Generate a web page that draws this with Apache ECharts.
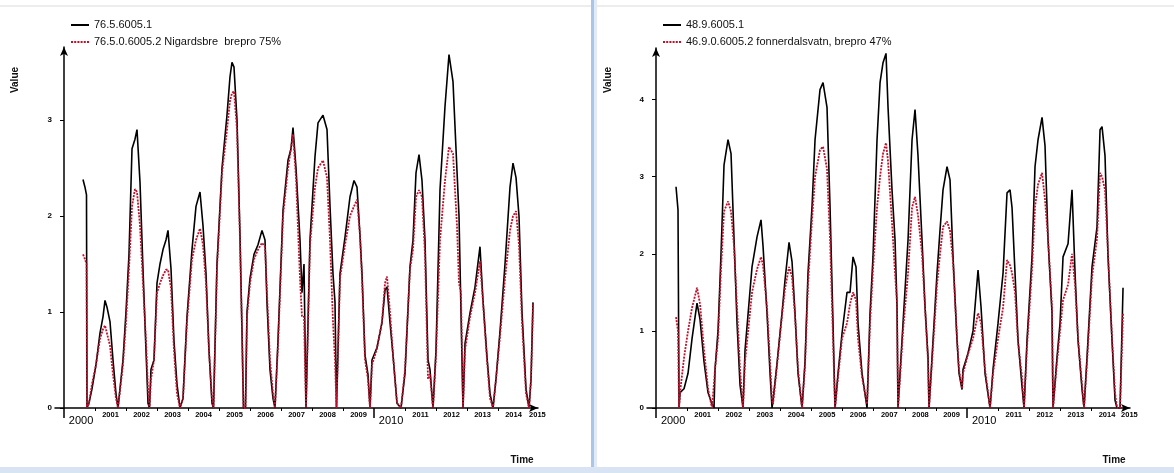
<!DOCTYPE html>
<html><head><meta charset="utf-8">
<script src="https://cdn.jsdelivr.net/npm/echarts@6/dist/echarts.min.js"></script>
<style>html,body{margin:0;padding:0;background:#fff;}#c{width:1174px;height:473px;}</style>
</head><body><div id="c"></div>
<script>
// ---------- data (decimal years, values) ----------
const baseYear = 2000;
const leftYears = [2000.613,2000.677,2000.726,2000.742,2000.806,2000.903,2001.032,2001.161,2001.258,2001.323,2001.387,2001.484,2001.581,2001.677,2001.742,2001.806,
 2001.903,2002.0,2002.097,2002.194,2002.290,2002.355,2002.452,2002.548,2002.645,2002.710,2002.758,
 2002.806,2002.903,2003.0,2003.097,2003.194,2003.290,2003.355,2003.452,2003.548,2003.645,2003.742,
 2003.839,2003.968,2004.129,2004.258,2004.387,2004.484,2004.581,2004.677,2004.774,2004.823,
 2004.935,2005.097,2005.258,2005.355,2005.419,2005.484,2005.581,2005.677,2005.742,2005.790,2005.855,
 2005.903,2006.0,2006.129,2006.258,2006.387,2006.484,2006.548,2006.645,2006.742,2006.806,
 2006.903,2007.065,2007.226,2007.323,2007.387,2007.484,2007.613,2007.677,2007.742,2007.806,
 2007.935,2008.097,2008.194,2008.355,2008.484,2008.581,2008.677,2008.742,2008.790,
 2008.903,2009.065,2009.226,2009.355,2009.452,2009.548,2009.613,2009.710,2009.806,2009.871,
 2009.935,2010.097,2010.258,2010.355,2010.419,2010.516,2010.613,2010.742,2010.871,
 2011.0,2011.161,2011.258,2011.355,2011.452,2011.548,2011.645,2011.742,2011.806,2011.903,
 2012.0,2012.129,2012.290,2012.419,2012.548,2012.677,2012.742,2012.806,2012.871,
 2012.935,2013.097,2013.258,2013.419,2013.516,2013.645,2013.742,2013.839,
 2013.935,2014.065,2014.226,2014.387,2014.484,2014.581,2014.677,2014.774,2014.903,2015.0,2015.065,2015.129];
const leftObserved = [2.38,2.3,2.22,0,0.05,0.2,0.45,0.78,0.95,1.12,1.05,0.9,0.5,0.15,0,0,
 0.5,1.0,1.6,2.7,2.8,2.9,2.35,1.45,0.6,0.05,0,
 0.4,0.5,1.3,1.5,1.65,1.75,1.85,1.45,0.7,0.25,0,
 0.1,0.95,1.65,2.1,2.25,1.9,1.4,0.6,0.05,0,
 1.5,2.5,3.05,3.45,3.6,3.55,3.0,1.8,0.8,0,0,
 1.0,1.35,1.6,1.7,1.85,1.75,1.1,0.4,0.1,0,
 0.7,2.06,2.58,2.7,2.92,2.5,1.75,1.2,1.5,0,
 1.75,2.62,2.97,3.05,2.9,2.1,1.4,1.1,0,
 1.4,1.78,2.2,2.37,2.3,1.8,1.4,0.55,0.35,0,
 0.5,0.63,0.89,1.23,1.26,0.89,0.55,0.05,0,
 0.36,1.47,1.75,2.45,2.64,2.37,1.75,0.5,0.4,0,
 0.6,2.27,3.14,3.68,3.4,2.47,2.0,1.0,0,
 0.67,0.99,1.26,1.68,1.12,0.53,0.15,0,
 0.3,0.8,1.5,2.3,2.55,2.4,2.0,1.0,0.2,0,0.3,1.1];
const leftSimulated = [1.6,1.55,1.5,0,0.05,0.25,0.45,0.72,0.82,0.86,0.87,0.65,0.35,0.1,0,0,
 0.45,0.9,1.45,2.1,2.28,2.25,1.9,1.3,0.7,0.2,0,
 0.3,0.5,1.2,1.3,1.38,1.44,1.44,1.25,0.6,0.15,0,
 0.1,0.9,1.55,1.75,1.87,1.7,1.3,0.6,0.1,0,
 1.45,2.45,2.9,3.2,3.28,3.3,2.9,1.75,0.8,0,0,
 0.95,1.3,1.55,1.65,1.72,1.68,1.2,0.5,0.15,0,
 0.65,2.0,2.5,2.7,2.85,2.4,1.35,0.95,0.95,0,
 1.7,2.3,2.5,2.58,2.4,1.75,0.9,0.5,0,
 1.35,1.7,2.0,2.1,2.17,1.8,1.35,0.5,0.3,0,
 0.45,0.62,0.9,1.3,1.37,1.0,0.55,0.05,0,
 0.4,1.45,1.65,2.2,2.27,2.2,1.6,0.3,0.35,0,
 0.55,1.75,2.37,2.72,2.65,1.9,1.3,1.2,0,
 0.6,0.95,1.2,1.53,1.1,0.5,0.1,0,
 0.3,0.75,1.35,1.85,2.0,2.05,1.7,0.9,0.15,0,0.3,1.08];

const rightYears = [2000.643,2000.707,2000.740,2000.772,2000.900,2001.029,2001.158,2001.318,2001.415,2001.543,2001.672,2001.801,2001.865,
 2001.897,2001.994,2002.090,2002.186,2002.315,2002.412,2002.508,2002.605,2002.701,2002.797,
 2002.862,2003.087,2003.248,2003.376,2003.441,2003.569,2003.666,2003.730,
 2003.762,2003.891,2004.051,2004.148,2004.277,2004.373,2004.469,2004.566,2004.695,
 2004.791,2004.887,2005.016,2005.113,2005.273,2005.370,2005.498,2005.595,2005.691,2005.756,
 2005.852,2005.981,2006.141,2006.238,2006.334,2006.431,2006.495,2006.624,2006.785,
 2006.881,2006.977,2007.106,2007.203,2007.299,2007.395,2007.460,2007.588,2007.685,2007.749,2007.781,
 2007.846,2007.942,2008.103,2008.232,2008.328,2008.424,2008.553,2008.650,2008.746,2008.778,
 2008.875,2009.035,2009.132,2009.228,2009.357,2009.453,2009.550,2009.678,2009.743,2009.839,
 2009.871,2010.032,2010.193,2010.354,2010.450,2010.579,2010.740,
 2010.836,2010.997,2011.158,2011.286,2011.383,2011.447,2011.543,2011.640,2011.768,2011.833,
 2011.929,2012.090,2012.186,2012.283,2012.412,2012.508,2012.605,2012.733,2012.765,
 2012.894,2012.990,2013.087,2013.248,2013.376,2013.473,2013.569,2013.698,2013.762,
 2013.859,2014.019,2014.180,2014.277,2014.341,2014.437,2014.534,2014.662,2014.759,2014.823,2014.920,2015.016];
const rightObserved = [2.87,2.57,0,0.2,0.25,0.45,0.9,1.36,1.15,0.6,0.2,0.05,0,
 0.5,1.0,2.0,3.15,3.48,3.3,2.2,1.1,0.3,0,
 0.75,1.83,2.22,2.44,2.1,1.23,0.45,0,
 0.1,0.58,1.23,1.66,2.15,1.9,1.23,0.45,0,
 0.6,1.75,2.61,3.48,4.13,4.22,3.9,2.61,1.1,0,
 0.45,0.97,1.5,1.5,1.96,1.83,1.1,0.45,0,
 1.23,1.96,3.48,4.22,4.48,4.6,3.9,2.83,2.18,1.31,0,
 0.45,1.1,2.18,3.48,3.87,3.27,2.18,1.31,0.66,0,
 0.66,1.75,2.31,2.83,3.13,2.96,1.96,0.88,0.45,0.24,
 0.5,0.71,1.0,1.79,1.31,0.45,0,
 0.5,1.1,1.75,2.79,2.83,2.6,1.75,0.88,0.28,0,
 0.88,1.96,3.13,3.48,3.77,3.4,2.18,1.23,0,
 0.66,1.1,1.96,2.13,2.83,1.75,0.88,0.24,0,
 0.66,1.83,2.35,3.61,3.65,3.27,1.96,0.88,0.1,0,0,1.56];
const rightSimulated = [1.18,1.0,0,0.2,0.65,1.0,1.3,1.56,1.35,0.75,0.25,0,0,
 0.5,0.9,1.8,2.55,2.68,2.55,2.1,1.3,0.5,0,
 0.6,1.5,1.8,1.96,1.85,1.3,0.6,0.1,
 0.05,0.55,1.2,1.55,1.83,1.7,1.2,0.5,0,
 0.55,1.6,2.45,3.0,3.35,3.39,3.1,2.2,0.9,0,
 0.4,0.9,1.1,1.35,1.5,1.4,0.9,0.4,0.05,
 1.1,1.8,2.6,3.0,3.3,3.44,3.2,2.4,1.75,1.36,0,
 0.4,1.0,1.75,2.6,2.74,2.5,2.0,1.3,0.6,0,
 0.6,1.6,2.0,2.35,2.42,2.3,1.9,0.9,0.5,0.25,
 0.45,0.7,0.9,1.23,1.1,0.5,0,
 0.45,0.9,1.3,1.92,1.85,1.75,1.5,0.85,0.4,0,
 0.8,1.8,2.61,2.9,3.05,2.7,2.2,1.3,0,
 0.6,1.0,1.4,1.6,2.0,1.6,0.9,0.3,0,
 0.6,1.7,2.2,3.05,3.0,2.83,2.0,0.9,0.2,0,0,1.23];

const leftNames = ['76.5.6005.1', '76.5.0.6005.2 Nigardsbre  brepro 75%'];
const rightNames = ['48.9.6005.1', '46.9.0.6005.2 fonnerdalsvatn, brepro 47%'];
const yearTickLabels = ['2001','2002','2003','2004','2005','2006','2007','2008','2009','2010','2011','2012','2013','2014'];
const decadeLabels = ['2000', '2010'];
const endLabel = '2015';
const leftYTicks = [0, 1, 2, 3];
const rightYTicks = [0, 1, 2, 3, 4];
const yTitle = 'Value';
const xTitle = 'Time';

// ---------- chart ----------
const FONT = "'Liberation Sans', Arial, sans-serif";
const BLACK = '#000000';
const RED = '#c0102c';

function pairs(years, vals) { return years.map((t, i) => [t - baseYear, vals[i]]); }

function xAxesFor(grid, min, max) {
  const small = [];
  yearTickLabels.forEach((l) => { const y = Number(l) - baseYear; if (decadeLabels.indexOf(l) < 0) small.push(y); });
  const labelPos = yearTickLabels.filter(l => decadeLabels.indexOf(l) < 0).map(l => Number(l) - baseYear + 0.5);
  labelPos.push(max - 0.02);
  const big = decadeLabels.map(l => Number(l) - baseYear);
  const bigLabelPos = big.map(v => v + 0.55);
  return [{
    type: 'value', gridIndex: grid, position: 'bottom', min, max,
    axisLine: { show: true, onZero: false, symbol: ['none', 'arrow'], symbolSize: [6, 9], lineStyle: { color: BLACK, width: 1.5 } },
    splitLine: { show: false },
    axisTick: { show: true, customValues: small, length: 3, lineStyle: { color: BLACK, width: 1 } },
    axisLabel: { show: true, customValues: labelPos, margin: 3, fontSize: 7.5, fontWeight: 'bold', fontFamily: FONT, color: BLACK,
      formatter: v => v > 14.9 ? endLabel : String(baseYear + Math.floor(v)) }
  }, {
    type: 'value', gridIndex: grid, position: 'bottom', min, max,
    axisLine: { show: false, onZero: false },
    splitLine: { show: false },
    axisTick: { show: true, customValues: big, length: 10, lineStyle: { color: BLACK, width: 1.5 } },
    axisLabel: { show: true, customValues: bigLabelPos, margin: 7, fontSize: 11, fontFamily: FONT, color: BLACK,
      formatter: v => decadeLabels[v < 5 ? 0 : 1] }
  }];
}

function yAxisFor(grid, max, ticks, zeroIdx) {
  return {
    type: 'value', gridIndex: grid, min: 0, max,
    axisLine: { show: true, onZero: true, onZeroAxisIndex: zeroIdx, symbol: ['none', 'arrow'], symbolSize: [6, 9], lineStyle: { color: BLACK, width: 1.5 } },
    splitLine: { show: false },
    axisTick: { show: true, customValues: ticks, length: 4, lineStyle: { color: BLACK } },
    axisLabel: { show: true, customValues: ticks, margin: 3, fontSize: 8, fontWeight: 'bold', fontFamily: FONT, color: BLACK }
  };
}

function seriesFor(names, years, obs, sim, xi, yi) {
  return [{
    type: 'line', name: names[0], xAxisIndex: xi, yAxisIndex: yi, data: pairs(years, obs),
    symbol: 'none', lineStyle: { color: BLACK, width: 1.6 }, itemStyle: { color: BLACK }, z: 2
  }, {
    type: 'line', name: names[1], xAxisIndex: xi, yAxisIndex: yi, data: pairs(years, sim),
    symbol: 'none', lineStyle: { color: RED, width: 1.8, type: [2, 1.2] }, itemStyle: { color: RED }, z: 3
  }];
}

function legendFor(names, left) {
  return {
    data: names, left, top: 19, orient: 'vertical', padding: 0, itemGap: 5,
    itemWidth: 18, itemHeight: 12, selectedMode: false,
    itemStyle: { opacity: 0 },
    textStyle: { fontSize: 11, fontFamily: FONT, color: '#111', lineHeight: 12 }
  };
}

function titleText(x, y, text, rot) {
  return { type: 'text', x, y, rotation: rot || 0, z: 10,
    style: { text, font: "bold 10px " + FONT, fill: '#111', align: 'center', verticalAlign: 'middle' } };
}

const chart = echarts.init(document.getElementById('c'), null, { renderer: 'canvas' });
chart.setOption({
  animation: false,
  backgroundColor: '#ffffff',
  grid: [
    { left: 55, top: 47, width: 483, height: 361 },
    { left: 647, top: 48, width: 483, height: 360 }
  ],
  xAxis: [...xAxesFor(0, -0.29, 15.29), ...xAxesFor(1, -0.29, 15.24)],
  yAxis: [yAxisFor(0, 3.76, leftYTicks, 0), yAxisFor(1, 4.67, rightYTicks, 2)],
  legend: [legendFor(leftNames, 70), legendFor(rightNames, 662)],
  series: [
    ...seriesFor(leftNames, leftYears, leftObserved, leftSimulated, 0, 0),
    ...seriesFor(rightNames, rightYears, rightObserved, rightSimulated, 2, 1)
  ],
  graphic: [
    { type: 'rect', shape: { x: 0, y: 5, width: 1174, height: 2 }, style: { fill: '#ededed' }, silent: true },
    { type: 'rect', shape: { x: 591, y: 0, width: 3, height: 473 }, style: { fill: '#a9c6ea' }, silent: true },
    { type: 'rect', shape: { x: 594, y: 0, width: 3, height: 473 }, style: { fill: '#e1eaf6' }, silent: true },
    { type: 'rect', shape: { x: 0, y: 467, width: 1174, height: 6 }, style: { fill: '#d8e3f3' }, silent: true },
    titleText(15, 80, yTitle, Math.PI / 2),
    titleText(608, 80, yTitle, Math.PI / 2),
    titleText(522, 460, xTitle),
    titleText(1114, 460, xTitle)
  ]
});
</script></body></html>
